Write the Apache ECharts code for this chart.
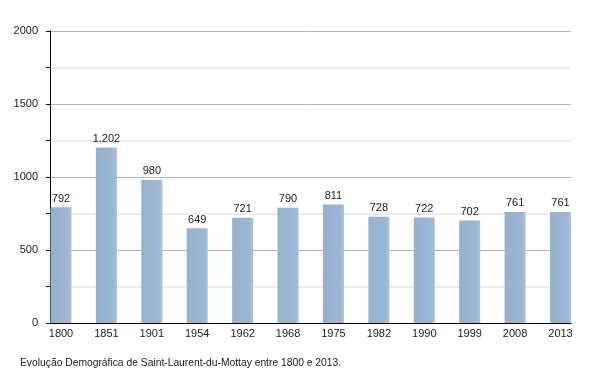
<!DOCTYPE html>
<html>
<head>
<meta charset="utf-8">
<script src="https://cdn.jsdelivr.net/npm/echarts@6/dist/echarts.min.js"></script>
<style>html,body{margin:0;padding:0;background:#fff}#c{width:600px;height:373px}</style>
</head>
<body>
<div id="c"></div>
<script>
const years = ['1800','1851','1901','1954','1962','1968','1975','1982','1990','1999','2008','2013'];
const population = [792, 1202, 980, 649, 721, 790, 811, 728, 722, 702, 761, 761];
const yTicks = {min: 0, max: 2000, interval: 500};
const caption = 'Evolução Demográfica de Saint-Laurent-du-Mottay entre 1800 e 2013.';

const font = 'Liberation Sans, Arial, sans-serif';
const chart = echarts.init(document.getElementById('c'), null, {renderer: 'canvas'});
chart.setOption({
  animation: false,
  backgroundColor: '#ffffff',
  title: {
    text: caption, left: 20, top: 358, padding: 0,
    textStyle: {fontSize: 10.3, fontWeight: 'normal', color: '#1a1a1a', fontFamily: font}
  },
  grid: [
    {left: 50, right: 29, top: 31, bottom: 50},
    {left: 61, right: 39.5, top: 31, bottom: 50}
  ],
  xAxis: [
    {gridIndex: 0, type: 'value', min: 0, max: 1,
     axisLine: {show: true, onZero: false, lineStyle: {color: '#000', width: 1}},
     axisTick: {show: false}, axisLabel: {show: false}, splitLine: {show: false}},
    {gridIndex: 1, type: 'category', data: years, boundaryGap: false,
     axisLine: {show: false}, axisTick: {show: false},
     axisLabel: {fontSize: 11, color: '#222', margin: 5, fontFamily: font, interval: 0},
     splitLine: {show: false}}
  ],
  yAxis: [
    {gridIndex: 0, type: 'value', min: yTicks.min, max: yTicks.max, interval: yTicks.interval,
     axisLine: {show: true, lineStyle: {color: '#000', width: 1}},
     axisTick: {show: true, length: 4, lineStyle: {color: '#000'}},
     minorTick: {show: true, splitNumber: 2, length: 4, lineStyle: {color: '#000'}},
     axisLabel: {fontSize: 11, color: '#222', margin: 12, fontFamily: font, formatter: v => String(v)},
     splitLine: {show: true, lineStyle: {color: '#b5b5b5', width: 1}},
     minorSplitLine: {show: true, lineStyle: {color: '#e6e6e6', width: 1.5}}},
    {gridIndex: 1, type: 'value', min: yTicks.min, max: yTicks.max, show: false}
  ],
  series: [{
    type: 'bar', xAxisIndex: 1, yAxisIndex: 1,
    data: population, barWidth: 21,
    itemStyle: {
      color: new echarts.graphic.LinearGradient(0, 0, 1, 0, [
        {offset: 0, color: '#96b1ce'},
        {offset: 0.8, color: '#9bb5d2'},
        {offset: 1, color: '#a9c0da'}
      ])
    },
    label: {
      show: true, position: 'top', distance: 3,
      fontSize: 11, color: '#222', fontFamily: font,
      formatter: p => p.value.toString().replace(/\B(?=(\d{3})+(?!\d))/g, '.')
    }
  }]
});
</script>
</body>
</html>
